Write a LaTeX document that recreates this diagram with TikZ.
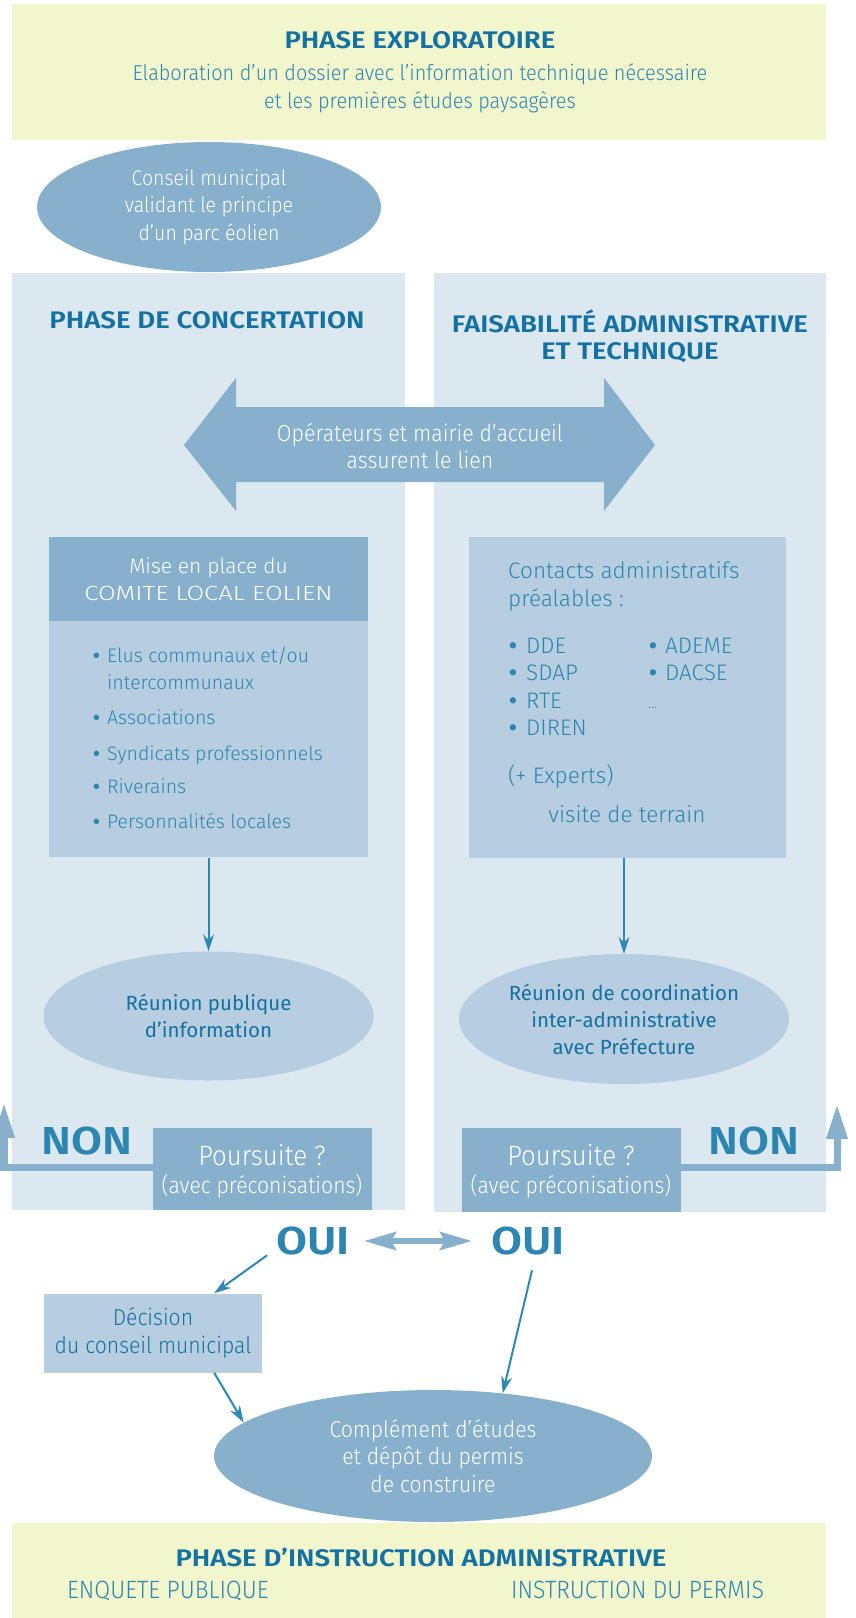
\documentclass[tikz,border=0pt]{standalone}
\usepackage{fontspec}
\setmainfont{Fira Sans}[UprightFont=* Light, BoldFont=* SemiBold]
\newfontfamily\condfont{Fira Sans}[UprightFont=* Light, FakeStretch=0.92]
\newfontfamily\capsfont{Fira Sans}[UprightFont=* Light, FakeStretch=1.25]
\newfontfamily\headfont{Fira Sans}[UprightFont=* SemiBold, FakeStretch=1.15]
\newfontfamily\pucefont{Fira Sans}[UprightFont=* Bold]
\newfontfamily\regfont{Fira Sans}
\usetikzlibrary{shapes.geometric,arrows.meta,positioning,calc}
\definecolor{bandyellow}{HTML}{F1F6CD}
\definecolor{colblue}{HTML}{DCE8F0}
\definecolor{midblue}{HTML}{87B0CC}
\definecolor{lightblue}{HTML}{B6CEE0}
\definecolor{headteal}{HTML}{1471A2}
\definecolor{txtteal}{HTML}{2D85B1}
\definecolor{arrteal}{HTML}{2E88B5}
\newcommand{\puce}[1][14pt]{\makebox[#1][l]{{\pucefont\textbullet}}}
\tikzset{
  band/.style={rectangle,fill=bandyellow,inner sep=0},
  column/.style={rectangle,fill=colblue,inner sep=0},
  box/.style={rectangle,inner sep=0,align=center},
  oval/.style={ellipse,fill=midblue,inner sep=0,align=center,text=white,font=\condfont\fontsize{23}{27.5}\selectfont},
  softoval/.style={ellipse,fill=lightblue,inner sep=0,align=center,text=headteal,font=\regfont\fontsize{20.5}{27}\selectfont},
  bandtitle/.style={inner sep=0,align=center,text=headteal,font=\headfont\fontsize{24}{27}\selectfont},
  bandtxt/.style={inner sep=0,align=center,text=txtteal,font=\condfont\fontsize{21.6}{28}\selectfont},
  item/.style={inner sep=0,anchor=west,text=txtteal,text height=14pt,text depth=4pt,font=\fontsize{19.5}{27}\selectfont},
  bigitem/.style={item,font=\fontsize{22.5}{27}\selectfont},
  bigword/.style={inner sep=0,text=txtteal,font=\headfont\fontsize{39}{40}\selectfont},
  conn/.style={-{Stealth[length=17pt,width=11pt]},arrteal,line width=2pt},
  retour/.style={-{Triangle[length=35pt,width=20pt]},midblue,line width=7pt}
}
\begin{document}
\begin{tikzpicture}[x=1pt,y=-1pt]
\useasboundingbox (0,0) rectangle (855,1618);

% phase exploratoire
\node[band,minimum width=814,minimum height=136] (explo) at (419,72) {};
\node[bandtitle] (exploT) at (420,40) {PHASE EXPLORATOIRE};
\node[bandtxt] (exploD) at (420,88) {Elaboration d’un dossier avec l’information technique nécessaire\\et les premières études paysagères};

% les deux colonnes
\node[column,minimum width=393,minimum height=937] (colL) at (208.5,741.5) {};
\node[column,minimum width=392,minimum height=939] (colR) at (630,742.5) {};
\node[oval,minimum width=344,minimum height=130,font=\condfont\fontsize{21.2}{27.5}\selectfont] (conseil) at (209,207) {Conseil municipal\\validant le principe\\d’un parc éolien};
\node[bandtitle] (concT) at (207,320) {PHASE DE CONCERTATION};
\node[bandtitle] (faisT) at (630,336.5) {FAISABILITÉ ADMINISTRATIVE\\ET TECHNIQUE};

% fleche double
\fill[midblue] (184,445) -- (236,378) -- (236,407) -- (604,407) -- (604,378) -- (655,445)
  -- (604,511) -- (604,482) -- (236,482) -- (236,511) -- cycle;
\node[box,text=white,font=\condfont\fontsize{23.2}{27}\selectfont] (lien) at (420,446) {Opérateurs et mairie d’accueil\\assurent le lien};

% comite local
\node[box,fill=midblue,minimum width=319,minimum height=84,text=white,font=\fontsize{21}{27}\selectfont] (comiteH) at (208.5,579) {Mise en place du\\{\capsfont\fontsize{20.5}{27}\selectfont COMITE LOCAL EOLIEN}};
\node[box,fill=lightblue,minimum width=319,minimum height=236,below=0pt of comiteH] (comiteB) {};
\node[item] (elus) at (93,657) {\puce Elus communaux et/ou};
\node[item] (inter) at (93,684) {\hspace*{14pt}intercommunaux};
\node[item] (assoc) at (93,719) {\puce Associations};
\node[item] (synd) at (93,755) {\puce Syndicats professionnels};
\node[item] (riv) at (93,788) {\puce Riverains};
\node[item] (perso) at (93,823) {\puce Personnalités locales};

% contacts administratifs
\node[box,fill=lightblue,minimum width=317,minimum height=321] (contacts) at (627.5,697.5) {};
\node[bigitem] (contT) at (508,573) {Contacts administratifs};
\node[bigitem] (contP) at (508,601) {préalables :};
\node[bigitem] (dde) at (509,648) {\puce[17pt]DDE};
\node[bigitem] (sdap) at (509,675) {\puce[17pt]SDAP};
\node[bigitem] (rte) at (509,703) {\puce[17pt]RTE};
\node[bigitem] (diren) at (509,730) {\puce[17pt]DIREN};
\node[bigitem] (ademe) at (649,648) {\puce[16pt]ADEME};
\node[bigitem] (dacse) at (649,675) {\puce[16pt]DACSE};
\node[item] (etc) at (648,703) {\fontsize{14}{14}\selectfont...};
\node[bigitem] (experts) at (508,778) {(+ Experts)};
\node[bigitem,anchor=center] (visite) at (627,817) {visite de terrain};

% reunions
\node[softoval,minimum width=330,minimum height=129] (reunionL) at (208.5,1016) {Réunion publique\\d’information};
\node[softoval,minimum width=330,minimum height=130] (reunionR) at (624,1019) {Réunion de coordination\\inter-administrative\\avec Préfecture};
\draw[conn] (comiteB) -- (reunionL);
\draw[conn] (contacts.south -| reunionR.north) -- (reunionR.north);

% poursuite
\coordinate (coinL) at (4,1167);
\coordinate (hautL) at (4,1103);
\coordinate (coinR) at (837,1167);
\coordinate (hautR) at (837,1104);
\node[box,fill=midblue,minimum width=219,minimum height=82] (poursL) at (262.5,1169) {};
\node[box,fill=midblue,minimum width=219,minimum height=84] (poursR) at (571.5,1170) {};
\draw[retour] (poursL.west |- coinL) -- (coinL) -- (hautL);
\draw[retour] (poursR.east |- coinR) -- (coinR) -- (hautR);
\node[box,text=white,font=\condfont\fontsize{28}{30}\selectfont] (poursLq) at (262,1155) {Poursuite ?};
\node[box,text=white,font=\condfont\fontsize{23}{27}\selectfont] (poursLa) at (262,1186) {(avec préconisations)};
\node[box,text=white,font=\condfont\fontsize{28}{30}\selectfont] (poursRq) at (571,1155) {Poursuite ?};
\node[box,text=white,font=\condfont\fontsize{23}{27}\selectfont] (poursRa) at (571,1186) {(avec préconisations)};
\node[bigword] (nonL) at (87,1141) {NON};
\node[bigword] (nonR) at (754,1141) {NON};

% oui
\node[bigword] (ouiL) at (313,1241) {OUI};
\node[bigword] (ouiR) at (528,1241) {OUI};
\draw[{Stealth[length=32pt,width=18pt,inset=5pt]}-{Stealth[length=32pt,width=18pt,inset=5pt]},midblue,line width=6pt,shorten <=14pt,shorten >=19pt] (ouiL) -- (ouiR);
\node[box,fill=lightblue,minimum width=218,minimum height=79,text=headteal,font=\condfont\fontsize{23}{28}\selectfont] (decision) at (153,1333) {Décision\\du conseil municipal};
\node[oval,minimum width=438,minimum height=132] (complement) at (433,1456) {Complément d’études\\et dépôt du permis\\de construire};
\draw[conn] ([xshift=-9pt]ouiL.south west) -- (decision.33);
\draw[conn] (decision.-33) -- (complement.170.5);
\draw[conn] ([xshift=4pt,yshift=-15pt]ouiR.south) -- (complement.42);

% phase d'instruction
\node[band,minimum width=814,minimum height=95] (instr) at (419,1570.5) {};
\node[bandtitle] (instrT) at (421,1558) {PHASE D’INSTRUCTION ADMINISTRATIVE};
\node[item,font=\condfont\fontsize{25}{27}\selectfont] (enquete) at (67,1593) {ENQUETE PUBLIQUE};
\node[item,font=\condfont\fontsize{25}{27}\selectfont] (permis) at (511,1593) {INSTRUCTION DU PERMIS};
\end{tikzpicture}
\end{document}
